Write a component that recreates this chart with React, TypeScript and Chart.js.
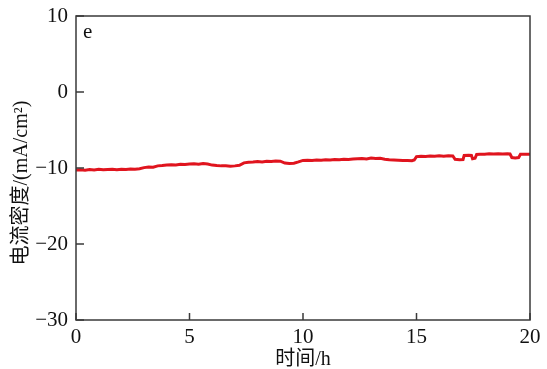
import React, { useEffect, useRef } from "react";
import { Chart, registerables } from "chart.js";

Chart.register(...registerables);

const hours = [
  0.0, 0.2, 0.4, 0.6, 0.8, 1.0, 1.2, 1.4, 1.6, 1.8, 2.0, 2.2, 2.4, 2.6, 2.8,
  3.0, 3.2, 3.4, 3.6, 3.8, 4.0, 4.2, 4.4, 4.6, 4.8, 5.0, 5.2, 5.4, 5.6, 5.8,
  6.0, 6.2, 6.4, 6.6, 6.8, 7.0, 7.2, 7.4, 7.6, 7.8, 8.0, 8.2, 8.4, 8.6, 8.8,
  9.0, 9.2, 9.4, 9.6, 9.8, 10.0, 10.2, 10.4, 10.6, 10.8, 11.0, 11.2, 11.4, 11.6, 11.8,
  12.0, 12.2, 12.4, 12.6, 12.8, 13.0, 13.2, 13.4, 13.6, 13.8, 14.0, 14.2, 14.4, 14.6, 14.8,
  14.9, 15.0, 15.2, 15.4, 15.6, 15.8, 16.0, 16.2, 16.4, 16.6, 16.7, 16.9, 17.05, 17.1, 17.3,
  17.42, 17.47, 17.58, 17.65, 17.8, 18.0, 18.2, 18.4, 18.6, 18.8, 19.0, 19.12, 19.2, 19.35, 19.5,
  19.58, 19.8, 20.0,
];

const density = [
  -10.25, -10.22, -10.28, -10.2, -10.25, -10.18, -10.24, -10.2, -10.16, -10.22, -10.15, -10.2, -10.12, -10.17, -10.1,
  -9.95, -9.88, -9.9, -9.72, -9.68, -9.62, -9.58, -9.6, -9.52, -9.55, -9.48, -9.45, -9.5, -9.4, -9.48,
  -9.62, -9.68, -9.72, -9.7, -9.76, -9.72, -9.65, -9.32, -9.25, -9.22, -9.15, -9.2, -9.12, -9.15, -9.08,
  -9.1, -9.35, -9.4, -9.38, -9.2, -9.0, -8.98, -9.02, -8.95, -8.98, -8.92, -8.95, -8.88, -8.92, -8.85,
  -8.88, -8.82, -8.78, -8.75, -8.8, -8.7, -8.76, -8.72, -8.85, -8.92, -8.95, -8.98, -9.0, -9.02, -9.05,
  -8.95, -8.5, -8.45, -8.48, -8.42, -8.45, -8.4, -8.44, -8.38, -8.42, -8.85, -8.92, -8.88, -8.35, -8.32,
  -8.35, -8.78, -8.72, -8.22, -8.18, -8.2, -8.14, -8.17, -8.12, -8.15, -8.13, -8.16, -8.62, -8.68, -8.62,
  -8.2, -8.18, -8.2,
];

const xTicks = [0, 5, 10, 15, 20];
const yTicks = [10, 0, -10, -20, -30];
const xTitle = "时间/h";
const yTitle = "电流密度/(mA/cm²)";
const panelLabel = "e";

const FONT = '"Liberation Serif", "Noto Sans CJK SC", serif';
const TEXT = "#111111";

export default function App() {
  const ref = useRef<HTMLCanvasElement | null>(null);

  useEffect(() => {
    const canvas = ref.current;
    if (!canvas) return;

    const framePlugin = {
      id: "frame",
      afterDatasetsDraw(chart: any) {
        const { ctx, chartArea } = chart;
        const { left, right, top, bottom } = chartArea;
        const xs = chart.scales.x;
        const ys = chart.scales.y;
        ctx.save();
        ctx.strokeStyle = "#3a3a3a";
        ctx.lineWidth = 1.5;
        ctx.strokeRect(left, top, right - left, bottom - top);
        ctx.beginPath();
        for (const v of yTicks) {
          const py = ys.getPixelForValue(v);
          ctx.moveTo(left, py);
          ctx.lineTo(left + 8, py);
        }
        for (const v of xTicks) {
          const px = xs.getPixelForValue(v);
          ctx.moveTo(px, bottom);
          ctx.lineTo(px, bottom - 7);
        }
        ctx.stroke();

        ctx.fillStyle = TEXT;
        ctx.font = `21px ${FONT}`;
        ctx.textAlign = "left";
        ctx.textBaseline = "alphabetic";
        ctx.fillText(panelLabel, left + 7, top + 22);

        ctx.font = `20px ${FONT}`;
        ctx.textAlign = "center";
        ctx.textBaseline = "middle";
        ctx.fillText(xTitle, (left + right) / 2, 360);

        ctx.translate(22, 183);
        ctx.rotate(-Math.PI / 2);
        ctx.fillText(yTitle, 0, 0);
        ctx.restore();
      },
    };

    const chart = new Chart(canvas, {
      type: "line",
      data: {
        datasets: [
          {
            data: hours.map((h, i) => ({ x: h, y: density[i] })),
            borderColor: "#e0141e",
            borderWidth: 3,
            pointRadius: 0,
            tension: 0,
            fill: false,
          },
        ],
      },
      options: {
        responsive: false,
        animation: false,
        layout: { padding: { top: 16, right: 17, left: 0, bottom: 0 } },
        plugins: {
          legend: { display: false },
          tooltip: { enabled: false },
        },
        scales: {
          x: {
            type: "linear",
            min: 0,
            max: 20,
            grid: { display: false },
            border: { display: false },
            afterBuildTicks: (s: any) => {
              s.ticks = xTicks.map((v) => ({ value: v }));
            },
            afterFit: (s: any) => {
              s.height = 49;
            },
            ticks: {
              font: { family: FONT, size: 21 },
              color: TEXT,
              padding: -3,
              maxRotation: 0,
              autoSkip: false,
            },
          },
          y: {
            type: "linear",
            min: -30,
            max: 10,
            grid: { display: false },
            border: { display: false },
            afterBuildTicks: (s: any) => {
              s.ticks = yTicks.map((v) => ({ value: v }));
            },
            afterFit: (s: any) => {
              s.width = 76;
            },
            ticks: {
              font: { family: FONT, size: 21 },
              color: TEXT,
              padding: 0,
              autoSkip: false,
              callback: (v: any) => String(v).replace("-", "\u2212"),
            },
          },
        },
      },
      plugins: [framePlugin],
    });

    return () => chart.destroy();
  }, []);

  return (
    <div style={{ position: "fixed", left: 0, top: 0, width: 547, height: 369, background: "#fff" }}>
      <canvas ref={ref} width={547} height={369} style={{ display: "block" }} />
    </div>
  );
}
